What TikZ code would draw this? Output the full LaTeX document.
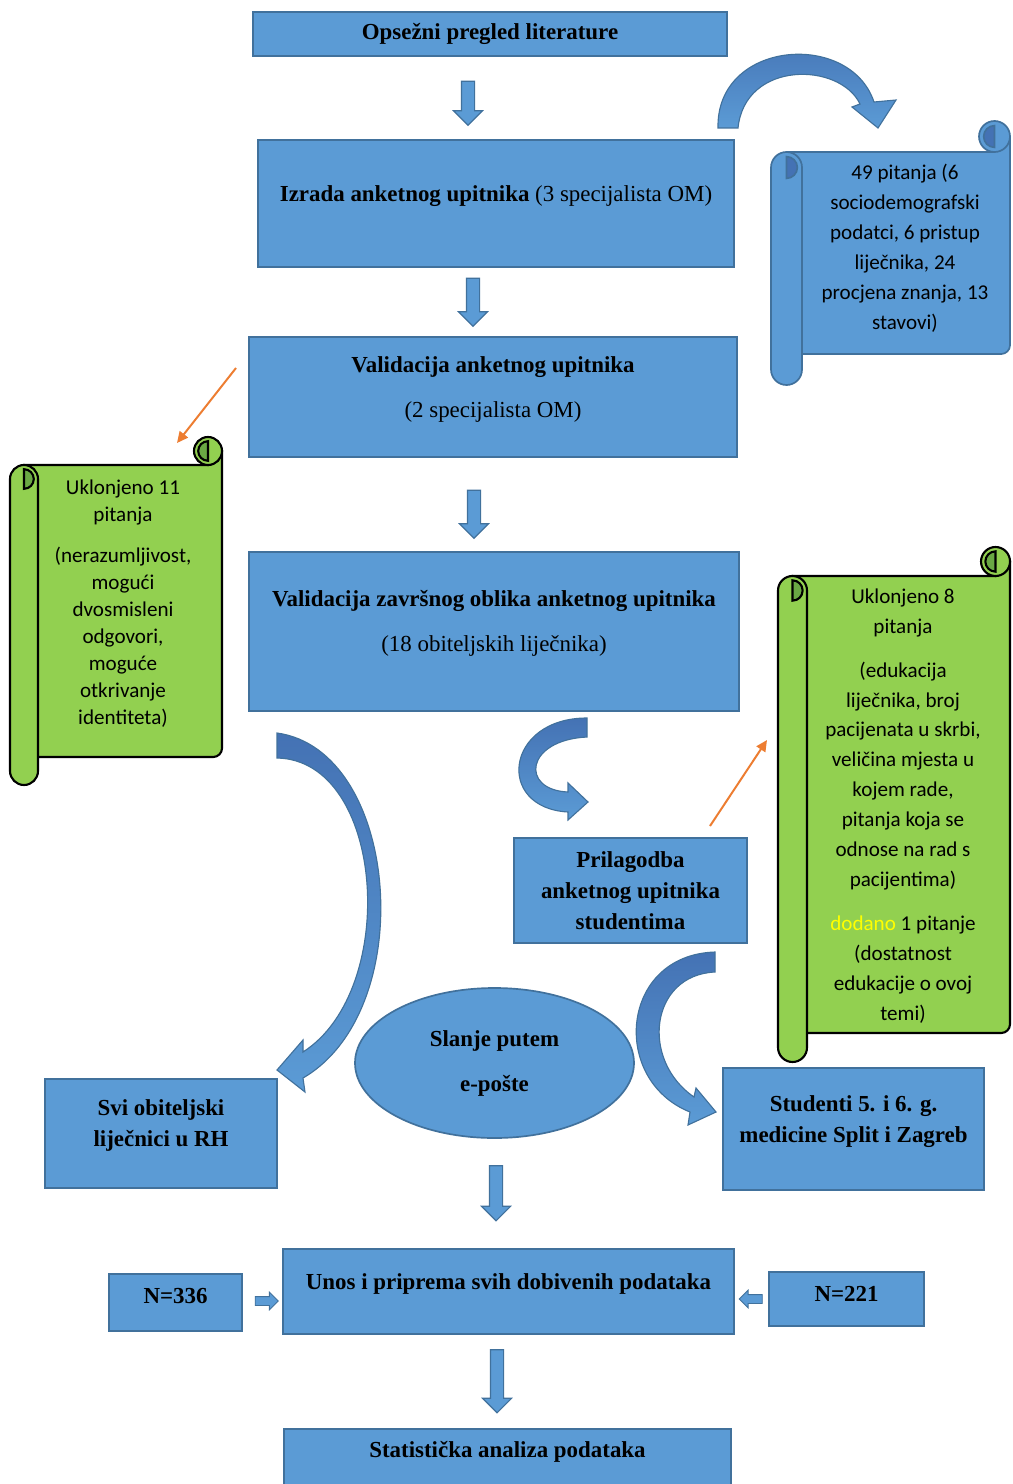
\documentclass[tikz,border=0pt]{standalone}
\usepackage{fontspec}
\setmainfont{Liberation Serif}
\newfontfamily\calibri{Carlito}
\usepackage{xcolor}
\usetikzlibrary{positioning,arrows.meta,shapes.geometric,shapes.arrows,calc}

\definecolor{boxblue}{RGB}{91,155,213}
\definecolor{boxedge}{RGB}{65,113,156}
\definecolor{curlblue}{RGB}{68,114,180}
\definecolor{scrollgreen}{RGB}{146,208,80}
\definecolor{curlgreen}{RGB}{106,168,68}
\definecolor{pointer}{RGB}{237,125,49}
\definecolor{addyellow}{RGB}{255,255,0}

% one pixel of the layout grid
\newcommand{\pix}[1]{#1*0.025cm}

% vertical scroll: left, top, right, bottom, roll size, style, curl colour
\newcommand{\vscroll}[7]{%
  \begin{scope}[#6]
    \filldraw ({#1+#5/2},{#2+#5}) -- ({#3-#5/2},{#2+#5}) -- ({#3-#5/2},{#2+#5/2}) -- (#3,{#2+#5/2})
      {[rounded corners=0.22cm] -- (#3,{#4-#5}) -- ({#1+#5/2},{#4-#5})} -- cycle;
    \filldraw ({#3-#5/2},{#2+#5/2}) circle[radius=#5/2];
    \filldraw[fill=#7] ({#3-#5/2},{#2+#5*0.85}) arc[start angle=90, end angle=270, radius=#5*0.35] -- cycle;
    \filldraw[rounded corners=\pix{#5/2}] (#1,{#2+#5}) rectangle ({#1+#5},#4);
    \filldraw[fill=#7] ({#1+#5/2},{#2+#5*1.15}) arc[start angle=270, end angle=450, radius=#5*0.35] -- cycle;
  \end{scope}}

\begin{document}
\begin{tikzpicture}[x=0.025cm, y=-0.025cm,
    stepbox/.style={draw=boxedge, fill=boxblue, line width=1.2pt, inner sep=0pt, align=center,
      font=\fontsize{16.3}{22}\selectfont},
    raised/.style={text depth=#1}, raised/.default=0.52cm,
    mailbox/.style={ellipse, draw=boxedge, fill=boxblue, line width=1.2pt, inner sep=0pt, align=center,
      font=\fontsize{16.3}{22}\selectfont\bfseries},
    scrolltext/.style={align=center, inner sep=0pt, font=\calibri\fontsize{15}{21.3}\selectfont},
    downarrow/.style={single arrow, draw=boxedge, fill=boxblue, line width=0.8pt, inner xsep=0pt,
      inner ysep=0.15cm, single arrow head extend=0.2cm, single arrow head indent=0pt,
      minimum height=\pix{#1}, rotate=-90},
    sidearrow/.style={single arrow, draw=boxedge, fill=boxblue, line width=0.6pt, inner xsep=0pt,
      inner ysep=0.1cm, single arrow head extend=0.11cm, single arrow head indent=0pt,
      minimum height=\pix{23}},
    curlarrow/.style={draw=boxedge, line width=0.8pt, top color=curlblue, bottom color=boxblue},
    pointerarrow/.style={draw=pointer, line width=1.4pt, -{Triangle[length=0.28cm, width=0.26cm]}}]

  \clip (0,0) rectangle (1012,1484);
  \fill[white] (0,0) rectangle (1012,1484);

  % scrolls
  \vscroll{771}{121}{1010}{385}{31}{draw=boxedge, fill=boxblue, line width=1.2pt}{curlblue}
  \vscroll{10}{437}{222}{785}{28}{draw=black, fill=scrollgreen, line width=1.5pt}{curlgreen}
  \vscroll{778}{547}{1010}{1062}{29}{draw=black, fill=scrollgreen, line width=1.5pt}{curlgreen}

  \node[scrolltext] (count) at (905,248) {49 pitanja (6\\sociodemografski\\podatci, 6 pristup\\liječnika, 24\\procjena znanja, 13\\stavovi)};
  \node[scrolltext, font=\calibri\fontsize{15}{19.2}\selectfont] (drop11) at (123,604)
    {Uklonjeno 11\\pitanja\\[10pt](nerazumljivost,\\mogući\\dvosmisleni\\odgovori,\\moguće\\otkrivanje\\identiteta)};
  \node[scrolltext] (drop8) at (903,806)
    {Uklonjeno 8\\pitanja\\[10pt](edukacija\\liječnika, broj\\pacijenata u skrbi,\\veličina mjesta u\\kojem rade,\\pitanja koja se\\odnose na rad s\\pacijentima)\\[10pt]\textcolor{addyellow}{dodano} 1 pitanje\\(dostatnost\\edukacije o ovoj\\temi)};

  % main steps
  \node[stepbox, minimum width=\pix{474}, minimum height=\pix{44}] (lit) at (490,34) {\textbf{Opsežni pregled literature}};
  \node[stepbox, raised, minimum width=\pix{476}, minimum height=\pix{127}] (draft) at (496,203.5) {\textbf{Izrada anketnog upitnika} (3 specijalista OM)};
  \node[stepbox, raised, minimum width=\pix{488}, minimum height=\pix{120}] (valid) at (493,397) {\textbf{Validacija anketnog upitnika}\\[10pt](2 specijalista OM)};
  \node[stepbox, raised, minimum width=\pix{490}, minimum height=\pix{159}] (final) at (494,631.5) {\textbf{Validacija završnog oblika anketnog upitnika}\\[10pt](18 obiteljskih liječnika)};
  \node[stepbox, font=\fontsize{16.3}{22}\selectfont\bfseries, minimum width=\pix{233}, minimum height=\pix{105}] (adapt) at (630.5,890.5) {Prilagodba\\anketnog upitnika\\studentima};
  \node[mailbox, minimum width=\pix{279}, minimum height=\pix{150}] (mail) at (494.5,1063) {Slanje putem\\[10pt]e-pošte};
  \node[stepbox, raised, font=\fontsize{16.3}{22}\selectfont\bfseries, minimum width=\pix{232}, minimum height=\pix{109}] (gps) at (161,1133.5) {Svi obiteljski\\liječnici u RH};
  \node[stepbox, raised, font=\fontsize{16.3}{22}\selectfont\bfseries, minimum width=\pix{261}, minimum height=\pix{122}] (students) at (853.5,1129) {Studenti 5. i 6. g.\\medicine Split i Zagreb};
  \node[stepbox, raised, font=\fontsize{16.3}{22}\selectfont\bfseries, minimum width=\pix{451}, minimum height=\pix{85}] (entry) at (508.5,1291.5) {Unos i priprema svih dobivenih podataka};
  \node[stepbox, raised=0.32cm, font=\fontsize{16.3}{22}\selectfont\bfseries, minimum width=\pix{133}, minimum height=\pix{57}] (n336) at (175.5,1302.5) {N=336};
  \node[stepbox, raised=0.28cm, font=\fontsize{16.3}{22}\selectfont\bfseries, minimum width=\pix{155}, minimum height=\pix{54}] (n221) at (846.5,1299) {N=221};
  \node[stepbox, raised=1.47cm, font=\fontsize{16.3}{22}\selectfont\bfseries, minimum width=\pix{447}, minimum height=\pix{100}] (stats) at (507.5,1479) {Statistička analiza podataka};

  % block arrows
  \node[downarrow=44] (a1) at (468,100) {};
  \node[downarrow=48] (a2) at (473,299) {};
  \node[downarrow=48] (a3) at (474,511) {};
  \node[downarrow=55] (a4) at (496,1190) {};
  \node[downarrow=63] (a5) at (497,1378) {};
  \node[sidearrow] (a6) at (264.5,1301) {};
  \node[sidearrow, rotate=180] (a7) at (753,1299) {};

  % curved arrows
  \path[curlarrow] (718,128) .. controls (716,40) and (850,30) .. (874,102) -- (896,100) -- (878,128)
    -- (852,107) -- (860,104) .. controls (840,62) and (745,60) .. (738,128) -- cycle;
  \path[curlarrow] (587,718) .. controls (505,718) and (495,808) .. (568,812) -- (568,820) -- (588,802)
    -- (568,783) -- (568,792) .. controls (520,790) and (525,740) .. (587,737) -- cycle;
  \path[curlarrow] (277,733) .. controls (400,750) and (420,1010) .. (303,1078) -- (305,1092) -- (277,1070)
    -- (303,1040) -- (303,1052) .. controls (400,990) and (385,760) .. (277,758) -- cycle;
  \path[curlarrow] (715,952) .. controls (620,955) and (610,1080) .. (690,1112) -- (688,1125) -- (716,1112)
    -- (696,1088) -- (694,1097) .. controls (640,1060) and (650,975) .. (715,972) -- cycle;

  % pointers to the removed questions
  \coordinate (p1) at (236,368);
  \coordinate (p1end) at (177,443);
  \coordinate (p2) at (710,826);
  \coordinate (p2end) at (767,740);
  \draw[pointerarrow] (p1) -- (p1end);
  \draw[pointerarrow] (p2) -- (p2end);
\end{tikzpicture}
\end{document}
